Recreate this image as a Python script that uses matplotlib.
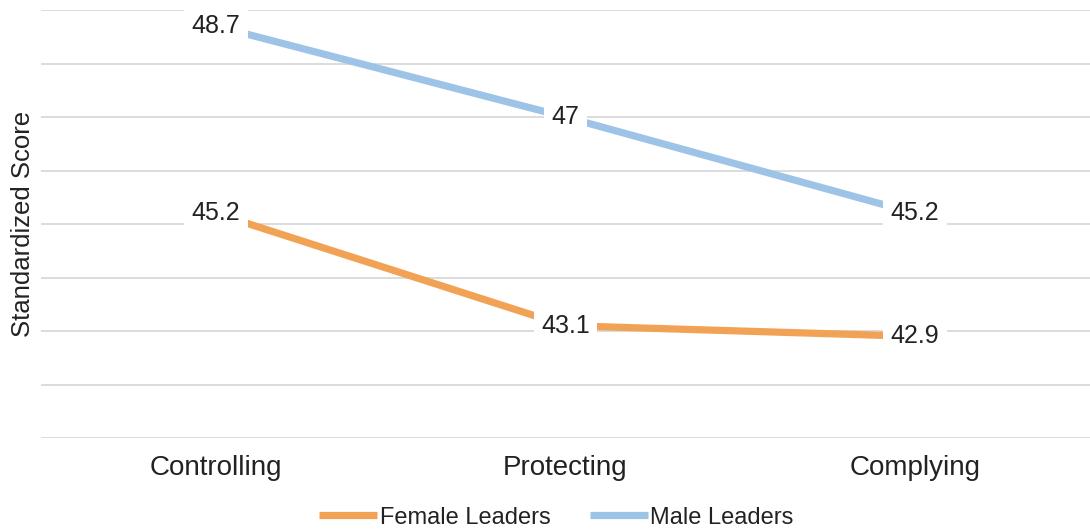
import matplotlib.pyplot as plt

plt.rcParams['font.family'] = ['Liberation Sans', 'DejaVu Sans']

categories = ['Controlling', 'Protecting', 'Complying']
female = [45.2, 43.1, 42.9]
male = [48.7, 47.0, 45.2]
female_labels = ['45.2', '43.1', '42.9']
male_labels = ['48.7', '47', '45.2']

fig = plt.figure(figsize=(10.9, 5.31), dpi=100)
ax = fig.add_axes([41 / 1090, 93 / 531, 1 - 41 / 1090, 428 / 531])

x = range(len(categories))
ax.plot(x, female, color='#F2A254', lw=5.2, solid_capstyle='butt', label='Female Leaders', zorder=3)
ax.plot(x, male, color='#9DC3E6', lw=5.2, solid_capstyle='butt', label='Male Leaders', zorder=3)

box = dict(boxstyle='square,pad=0.3', fc='white', ec='none')
for xi, v, t in zip(x, female, female_labels):
    ax.text(xi, v, t, ha='center', va='center', fontsize=18, color='#222222', bbox=box, zorder=4)
for xi, v, t in zip(x, male, male_labels):
    ax.text(xi, v, t, ha='center', va='center', fontsize=18, color='#222222', bbox=box, zorder=4)

ax.set_xlim(-0.5, 2.5)
ax.set_ylim(41, 49)
ax.set_yticks(range(41, 50))
ax.set_yticklabels([])
ax.set_xticks(list(x))
ax.set_xticklabels(categories, fontsize=20, color='#222222')
ax.tick_params(length=0, pad=12)
ax.grid(axis='y', color='#D9D9D9', lw=1.3)
ax.set_axisbelow(True)
for s in ax.spines.values():
    s.set_visible(False)
fig.text(23 / 1090, 1 - 224 / 531, 'Standardized Score', rotation=90, ha='center', va='center',
         fontsize=18.5, color='#222222')

ax.legend(loc='lower center', bbox_to_anchor=(0.5 - 9 / 1049, -93 / 428), ncol=2, frameon=False,
          fontsize=17, handlelength=2.45, handletextpad=0.12, columnspacing=1.65,
          borderaxespad=0, borderpad=0.1, labelcolor='#222222')

fig.savefig('out.png', dpi=100, facecolor='white')
